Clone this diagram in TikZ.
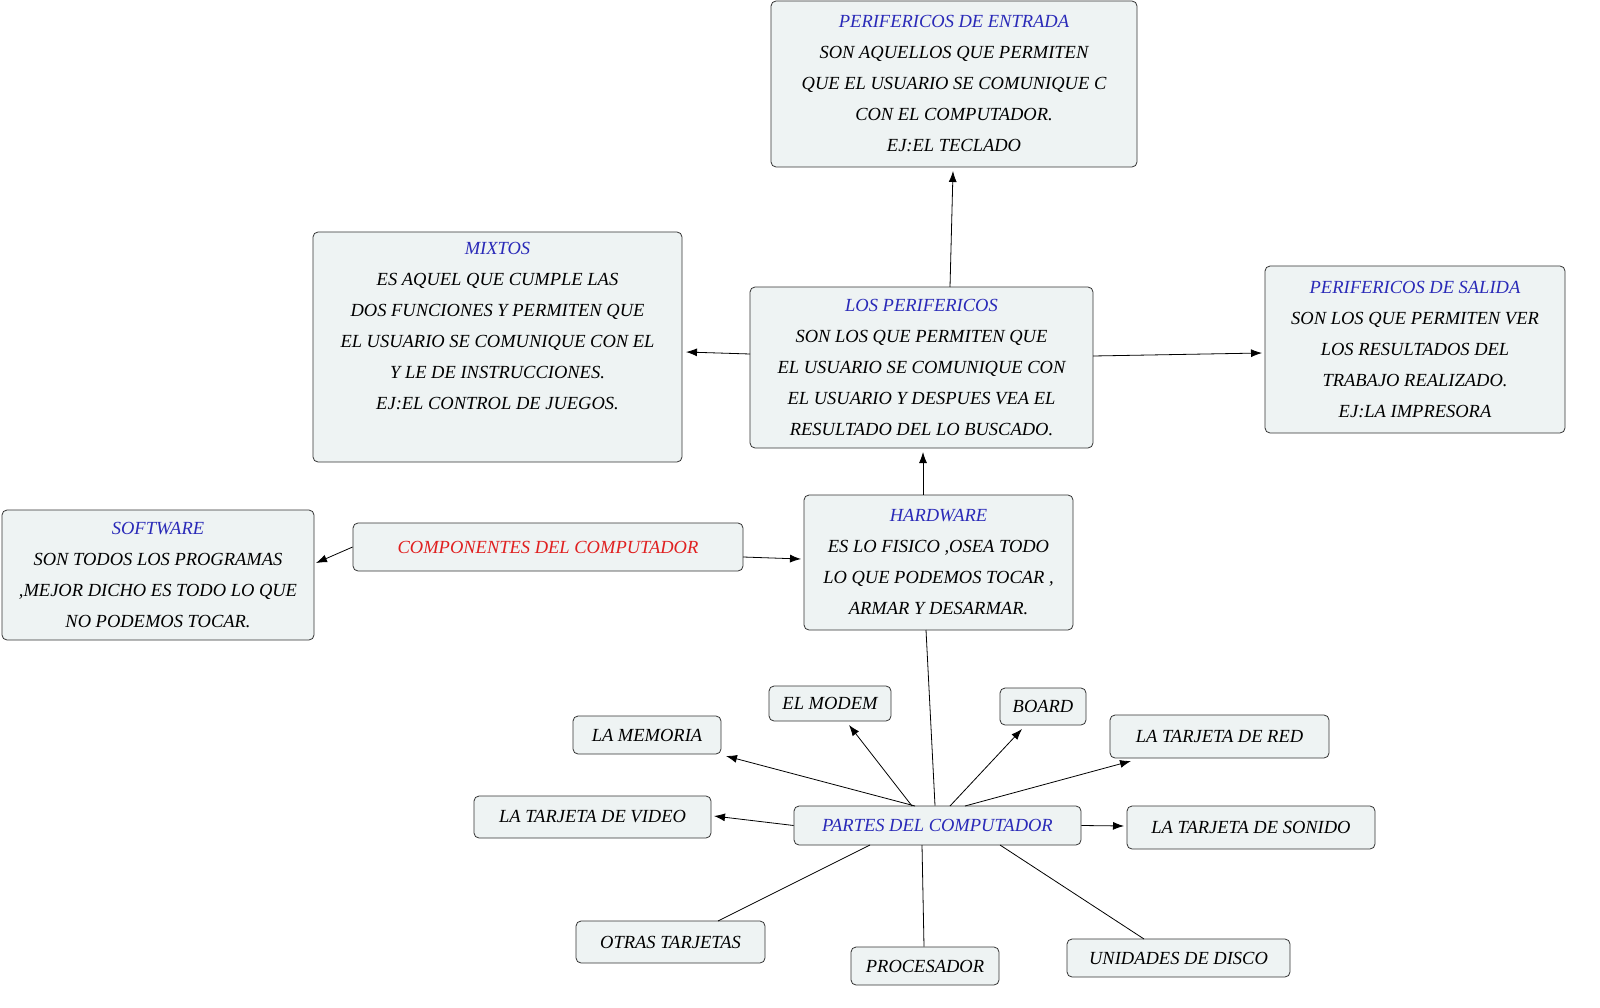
\documentclass[tikz,border=0pt]{standalone}
\usepackage{fontspec}
\setmainfont{Liberation Serif}
\usetikzlibrary{arrows.meta}
\definecolor{boxfill}{HTML}{EEF3F3}
\definecolor{tblue}{HTML}{2A2AB8}
\definecolor{tred}{HTML}{E02020}
\begin{document}
\begin{tikzpicture}[x=1pt,y=-1pt,
  box/.style={draw=black!80,fill=boxfill,rounded corners=5pt,line width=0.8pt,align=center,inner sep=0pt,font=\itshape\fontsize{18.5}{31}\selectfont},
  arr/.style={-{Latex[length=11pt,width=8pt]},line width=0.8pt},
  ln/.style={line width=0.8pt}]
\useasboundingbox (0,0) rectangle (1600,1008);
\newcommand{\bx}[6]{\node[box,minimum width=#4pt,minimum height=#5pt] (#1) at (#2,#3) {#6};}
\bx{ent}{954}{84}{366}{166}{\textcolor{tblue}{PERIFERICOS DE ENTRADA}\\SON AQUELLOS QUE PERMITEN\\QUE EL USUARIO SE COMUNIQUE C\\CON EL COMPUTADOR.\\EJ:EL TECLADO}
\bx{mix}{497.5}{347}{369}{230}{\textcolor{tblue}{MIXTOS}\\ES AQUEL QUE CUMPLE LAS\\DOS FUNCIONES Y PERMITEN QUE\\EL USUARIO SE COMUNIQUE CON EL\\Y LE DE INSTRUCCIONES.\\EJ:EL CONTROL DE JUEGOS.\\[12pt]}
\bx{per}{921.5}{367.5}{343}{161}{\textcolor{tblue}{LOS PERIFERICOS}\\SON LOS QUE PERMITEN QUE\\EL USUARIO SE COMUNIQUE CON\\EL USUARIO  Y DESPUES VEA EL\\RESULTADO DEL LO BUSCADO.}
\bx{sal}{1415}{349.5}{300}{167}{\textcolor{tblue}{PERIFERICOS DE SALIDA}\\SON LOS QUE PERMITEN VER\\LOS RESULTADOS DEL\\TRABAJO REALIZADO.\\EJ:LA IMPRESORA}
\bx{sof}{158}{575}{312}{130}{\textcolor{tblue}{SOFTWARE}\\SON TODOS LOS PROGRAMAS\\,MEJOR DICHO ES TODO LO QUE\\NO PODEMOS TOCAR.}
\bx{com}{548}{547}{390}{48}{\textcolor{tred}{COMPONENTES DEL COMPUTADOR}}
\bx{har}{938.5}{562.5}{269}{135}{\textcolor{tblue}{HARDWARE}\\ES LO FISICO ,OSEA TODO\\LO QUE PODEMOS TOCAR ,\\ARMAR Y DESARMAR.}
\bx{mod}{830}{703.5}{122}{35}{EL MODEM}
\bx{boa}{1043}{706.5}{86}{37}{BOARD}
\bx{mem}{647}{735}{148}{38}{LA MEMORIA}
\bx{red}{1219.5}{736.5}{219}{43}{LA TARJETA DE RED}
\bx{vid}{592.5}{817}{237}{42}{LA TARJETA DE VIDEO}
\bx{par}{937.5}{825.5}{287}{39}{\textcolor{tblue}{PARTES DEL COMPUTADOR}}
\bx{son}{1251}{827.5}{248}{43}{LA TARJETA DE SONIDO}
\bx{otr}{670.5}{942}{189}{42}{OTRAS TARJETAS}
\bx{pro}{925}{966}{148}{38}{PROCESADOR}
\bx{uni}{1178.5}{958}{223}{38}{UNIDADES DE DISCO}
\draw[arr] (har.north -| 923,0) -- (923,452);
\draw[arr] (950,287) -- (953,171);
\draw[arr] (750,354) -- (686,352);
\draw[arr] (1093,356) -- (1262,353);
\draw[arr] (com.west) -- (316,563);
\draw[arr] (743,557) -- (801,559);
\draw[ln] (par.north -| 935,0) -- (926,630);
\draw[arr] (915,806) -- (726,756);
\draw[arr] (912,806) -- (849,725);
\draw[arr] (950,806) -- (1022,729);
\draw[arr] (965,806) -- (1131,761);
\draw[arr] (par.west) -- (714,816);
\draw[arr] (par.east) -- (1124,826);
\draw[ln] (870,845) -- (718,921);
\draw[ln] (922,845) -- (pro.north -| 924,0);
\draw[ln] (1000,845) -- (1144,939);
\end{tikzpicture}
\end{document}
